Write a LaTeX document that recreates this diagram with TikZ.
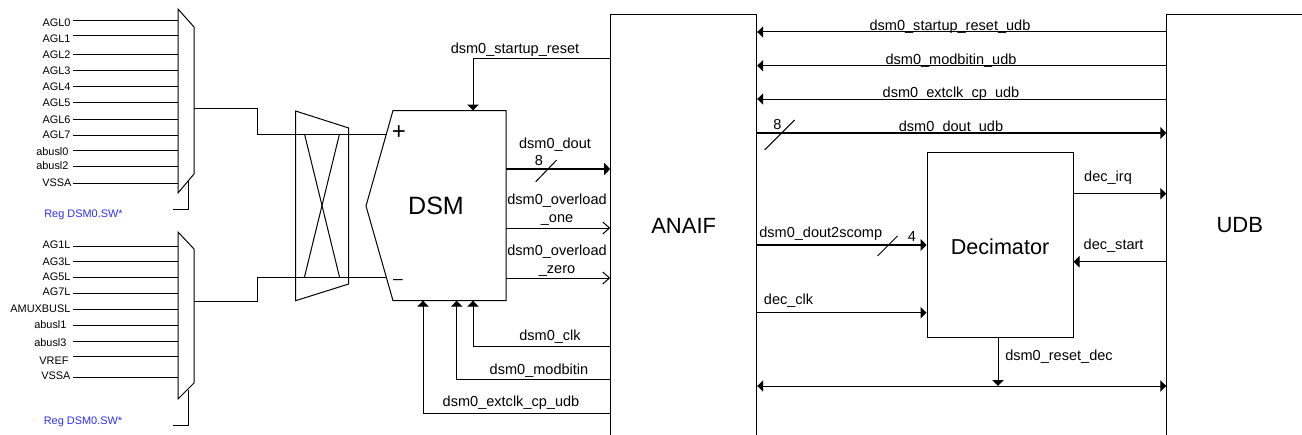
\documentclass[tikz,border=0pt]{standalone}
\usepackage{fontspec}
\setmainfont{Liberation Sans}
\usetikzlibrary{arrows.meta,positioning}
\definecolor{regblue}{RGB}{45,45,255}

\begin{document}
\begin{tikzpicture}[
x=0.75pt,y=-0.75pt,
line width=0.75pt,
box/.style={draw,line width=0.75pt,inner sep=0pt,align=center,font=\fontsize{16.5}{20}\selectfont},
sig/.style={inner sep=0pt,align=center,yshift=-1.6pt,font=\fontsize{10.9}{13.5}\selectfont},
numlbl/.style={inner sep=0pt,font=\fontsize{10.9}{13.5}\selectfont},
pinlbl/.style={inner sep=0pt,anchor=east,yshift=-0.6pt,font=\fontsize{8.2}{10}\selectfont},
reglbl/.style={inner sep=0pt,text=regblue,yshift=-1.4pt,font=\fontsize{8.2}{10}\selectfont},
arrow/.style={-{Triangle[length=4.5pt,width=8.5pt]}},
openarrow/.style={-{Straight Barb[length=5pt,width=9pt]}},
bus/.style={line width=1.5pt,-{Triangle[length=4.5pt,width=9pt]}},
both/.style={{Triangle[length=4.5pt,width=8.5pt]}-{Triangle[length=4.5pt,width=8.5pt]}}
]
\useasboundingbox (0,0) rectangle (1302,435);

\node[box,minimum width=109.5pt,minimum height=315.75pt] (anaif) at (683.7,225.5) {ANAIF};
\node[box,minimum width=109.5pt,minimum height=315.75pt] (udb) at (1239.8,225.5) {UDB};
\node[box,minimum width=109.5pt,minimum height=139pt] (dec) at (1000,245) {};
\node[inner sep=0pt,font=\fontsize{16.2}{20}\selectfont] (dectxt) at (1000,247) {Decimator};

\coordinate (m1a) at (178,9);
\coordinate (m1b) at (194,27);
\coordinate (m1c) at (194,174);
\coordinate (m1d) at (178,193);
\draw (m1a)--(m1b)--(m1c)--(m1d)--cycle;
\coordinate (m2a) at (178,232);
\coordinate (m2b) at (194,249);
\coordinate (m2c) at (194,383);
\coordinate (m2d) at (178,399);
\draw (m2a)--(m2b)--(m2c)--(m2d)--cycle;

\foreach \n/\t/\y/\ly/\e in {0/AGL0/21/22/71,1/AGL1/36/38/71,2/AGL2/55/54/71,3/AGL3/71/70/71,4/AGL4/87/86/71,5/AGL5/102/102/71,6/AGL6/119/119/71,7/AGL7/135/134/71,8/abusl0/150/151/69,9/abusl2/166/165/69,10/VSSA/183/182/72}{
  \node[pinlbl] (ua\n) at (\e,\ly) {\t};
  \coordinate (ub\n) at (178,\y);
  \draw (ub\n-|72.5,0) -- (ub\n);
}
\foreach \n/\t/\y/\ly/\e in {0/AG1L/246/244/71,1/AG3L/261/261/71,2/AG5L/277/276/71,3/AG7L/293/291/71,4/AMUXBUSL/309/308/71,5/abusl1/325/324/67,6/abusl3/341/342/67,7/VREF/356/360/69,8/VSSA/377/375/71}{
  \node[pinlbl] (la\n) at (\e,\ly) {\t};
  \coordinate (lb\n) at (178,\y);
  \draw (lb\n-|73,0) -- (lb\n);
}

\node[reglbl] (reg1) at (83.5,213) {Reg DSM0.SW*};
\node[reglbl] (reg2) at (83,420) {Reg DSM0.SW*};
\coordinate (sel1) at (188.7,181);
\coordinate (sel2) at (188.7,390);
\draw (sel1)--(188.7,209)--(173,209);
\draw (sel2)--(188.7,425)--(173,425);

\coordinate (xa) at (295.6,111);
\coordinate (xb) at (348.7,128);
\coordinate (xc) at (348.7,284);
\coordinate (xd) at (295.6,300.7);
\draw (xa)--(xb)--(xc)--(xd)--cycle;
\draw (304.5,134)--(339.5,277);
\draw (339.5,134)--(304.5,277);

\coordinate (dsma) at (393,110.5);
\coordinate (dsmb) at (506,110.5);
\coordinate (dsmc) at (506,300.7);
\coordinate (dsmd) at (393,300.7);
\coordinate (dsme) at (366,206);
\draw (dsma)--(dsmb)--(dsmc)--(dsmd)--(dsme)--cycle;
\node[inner sep=0pt,font=\fontsize{18.8}{22}\selectfont] (dsm) at (436,206) {DSM};
\node[inner sep=0pt,font=\fontsize{18}{20}\selectfont] (plus) at (399,133) {+};
\node[inner sep=0pt,font=\fontsize{13}{15}\selectfont] (minus) at (398,282) {--};

\coordinate (dsmp) at (386.6,134);
\coordinate (dsmm) at (386.4,277);
\draw (194,108)--(257,108)--(257,134)--(dsmp);
\draw (194,301)--(257,301)--(257,277)--(dsmm);

\draw[arrow] (anaif.west|-0,59) -| (473,110.5);
\draw[arrow] (anaif.west|-0,346) -| (473,300.7);
\draw[arrow] (anaif.west|-0,379.7) -| (456.7,300.7);
\draw[arrow] (anaif.west|-0,413.7) -| (423,300.7);
\draw[bus] (dsmb|-0,169) -- (anaif.west|-0,169);
\draw (535.7,181.7)--(556.7,160);
\draw[openarrow] (dsmb|-0,228) -- (anaif.west|-0,228);
\draw[openarrow] (dsmb|-0,278) -- (anaif.west|-0,278);

\node[sig] (lrst) at (515,48) {dsm0\_startup\_reset};
\node[sig] (ldout) at (555,143) {dsm0\_dout};
\node[numlbl] (l8a) at (539,160) {8};
\node[sig] (lone) at (557,208) {dsm0\_overload\\\_one};
\node[sig] (lzero) at (557,259) {dsm0\_overload\\\_zero};
\node[sig] (lclk) at (550,335) {dsm0\_clk};
\node[sig] (lmod) at (539,369) {dsm0\_modbitin};
\node[sig] (lext) at (511,401) {dsm0\_extclk\_cp\_udb};

\draw[arrow] (udb.west|-0,32) -- (anaif.east|-0,32);
\draw[arrow] (udb.west|-0,65.7) -- (anaif.east|-0,65.7);
\draw[arrow] (udb.west|-0,99) -- (anaif.east|-0,99);
\draw[bus] (anaif.east|-0,133) -- (udb.west|-0,133);
\draw (764.6,150)--(794.6,120);
\draw[arrow] (dec.east|-0,193.7) -- (udb.west|-0,193.7);
\draw[arrow] (udb.west|-0,261.7) -- (dec.east|-0,261.7);
\draw[bus] (anaif.east|-0,245) -- (dec.west|-0,245);
\draw (877.5,256)--(897.5,236);
\draw[arrow] (anaif.east|-0,312.7) -- (dec.west|-0,312.7);
\draw[both] (anaif.east|-0,386) -- (udb.west|-0,386);
\draw[arrow] (dec.south-|998,0) -- (998,386);

\node[sig] (lrstu) at (950,25) {dsm0\_startup\_reset\_udb};
\node[sig] (lmodu) at (951,59) {dsm0\_modbitin\_udb};
\node[sig] (lextu) at (951,92) {dsm0\_extclk\_cp\_udb};
\node[sig] (ldoutu) at (951,126) {dsm0\_dout\_udb};
\node[numlbl] (l8b) at (777.5,124) {8};
\node[sig] (lirq) at (1108,176) {dec\_irq};
\node[sig] (lstart) at (1113.6,244) {dec\_start};
\node[sig] (lcomp) at (820.7,232) {dsm0\_dout2scomp};
\node[numlbl] (l4) at (912,236) {4};
\node[sig] (lclkd) at (788.6,299) {dec\_clk};
\node[sig] (lrstd) at (1059,355) {dsm0\_reset\_dec};
\end{tikzpicture}
\end{document}
